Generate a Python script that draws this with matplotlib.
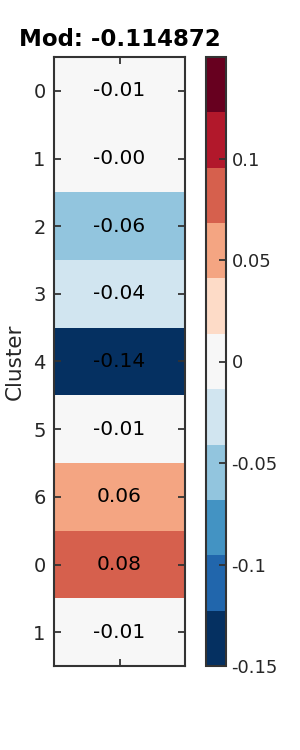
import matplotlib
matplotlib.use("Agg")
import matplotlib.pyplot as plt
import numpy as np

cluster_labels = ["0", "1", "2", "3", "4", "5", "6", "0", "1"]
values = [-0.01, -0.003, -0.06, -0.04, -0.14, -0.01, 0.06, 0.08, -0.01]
title = "Mod: -0.114872"
cbar_ticks = [-0.15, -0.1, -0.05, 0, 0.05, 0.1]
cbar_ticklabels = ["-0.15", "-0.1", "-0.05", "0", "0.05", "0.1"]

plt.rcParams['font.family'] = ['DejaVu Sans']
txt = '#262626'

fig = plt.figure(figsize=(3, 7.5), dpi=100)
ax = fig.add_axes([54/300, 84/750, 131/300, 609/750])
cax = fig.add_axes([206/300, 84/750, 20/300, 609/750])

cmap = plt.get_cmap('RdBu_r', 11)
data = np.array(values).reshape(-1, 1)
n = len(values)
mesh = ax.pcolormesh(np.arange(2), np.arange(n + 1), data, cmap=cmap, vmin=-0.15, vmax=0.15)
ax.set_xlim(0, 1)
ax.set_ylim(n, 0)
for i, v in enumerate(values):
    ax.text(0.5, i + 0.5, f"{v:.2f}", ha='center', va='center', fontsize=14.5, color='black')

ax.set_yticks(np.arange(n) + 0.5)
ax.set_yticklabels(cluster_labels)
ax.set_xticks([0.5])
ax.set_xticklabels([""])
ax.tick_params(axis='both', direction='in', length=5, width=1.3, color='#333333',
               left=True, right=True, top=True, bottom=True, pad=6,
               labelsize=14, labelcolor=txt)
for s in ax.spines.values():
    s.set_color('#333333')
    s.set_linewidth(1.5)
ax.set_ylabel("Cluster", fontsize=15.5, color=txt, labelpad=6)
ax.set_title(title, fontsize=16.5, fontweight='bold', pad=8)

cb = fig.colorbar(mesh, cax=cax, ticks=cbar_ticks)
cb.set_ticklabels(cbar_ticklabels)
cb.ax.tick_params(direction='in', length=5, width=1.3, color='#333333', labelsize=13, labelcolor=txt, pad=4)
cb.outline.set_edgecolor('#333333')
cb.outline.set_linewidth(1.5)

fig.savefig("out.png", dpi=100)
